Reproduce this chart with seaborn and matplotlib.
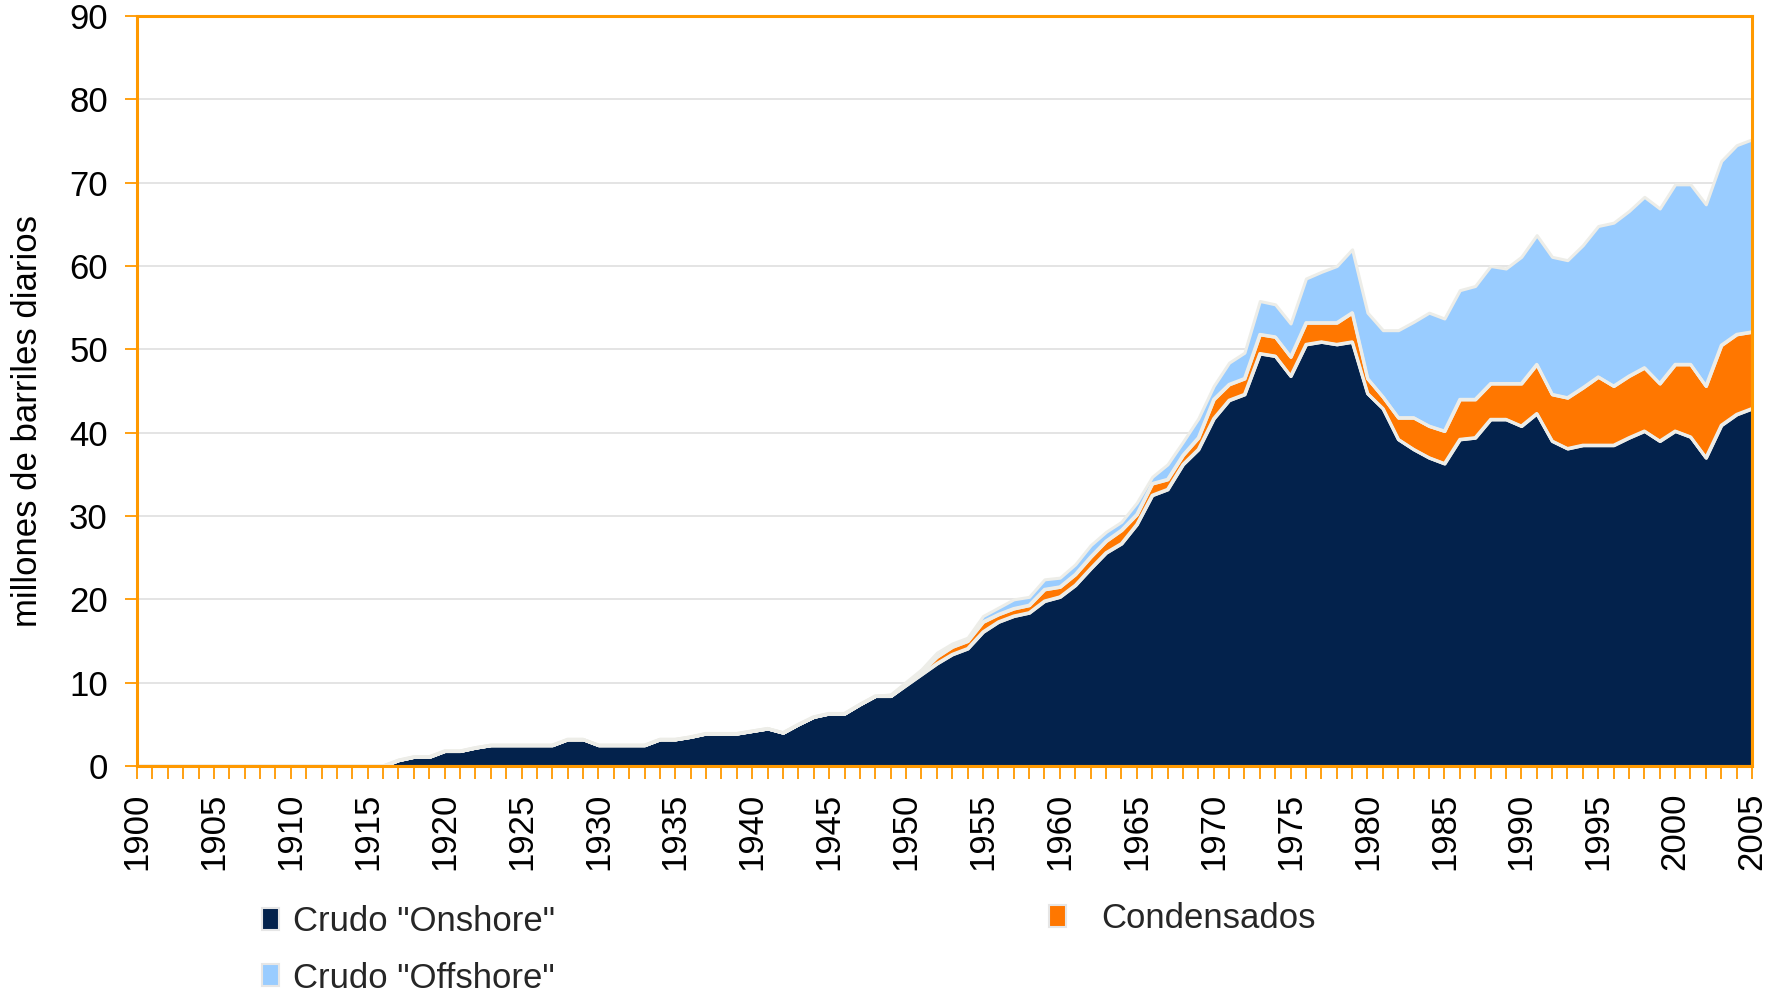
import numpy as np
import pandas as pd
import matplotlib
matplotlib.use("Agg")
import matplotlib.pyplot as plt
from matplotlib.patches import Patch
import seaborn as sns

years = list(range(1900, 2006))

onshore = [0.0] * 16 + [
    0.0, 0.7, 1.1, 1.1, 1.8, 1.8, 2.2, 2.5, 2.5, 2.5,      # 1916-1925
    2.5, 2.5, 3.2, 3.2, 2.5, 2.5, 2.5, 2.5, 3.2, 3.2,      # 1926-1935
    3.5, 3.9, 3.9, 3.9, 4.2, 4.5, 4.0, 5.0, 5.9, 6.3,      # 1936-1945
    6.3, 7.4, 8.4, 8.4, 9.7, 11.0, 12.3, 13.4, 14.1, 16.1,  # 1946-1955
    17.3, 18.0, 18.4, 19.8, 20.3, 21.7, 23.7, 25.6, 26.7, 29.0,  # 1956-1965
    32.5, 33.2, 36.2, 38.0, 41.7, 43.9, 44.6, 49.5, 49.2, 46.8,  # 1966-1975
    50.6, 50.9, 50.6, 50.9, 44.7, 42.9, 39.2, 38.0, 37.0, 36.3,  # 1976-1985
    39.2, 39.4, 41.6, 41.6, 40.8, 42.3, 39.0, 38.1, 38.5, 38.5,  # 1986-1995
    38.5, 39.4, 40.2, 39.0, 40.2, 39.5, 37.0, 40.9, 42.2, 42.9,  # 1996-2005
]

condensados = [0.0] * 50 + [
    0.1, 0.3, 0.8, 0.9, 0.9, 1.2, 0.9, 0.9, 0.9, 1.4,      # 1950-1959
    1.2, 1.3, 1.4, 1.4, 1.6, 1.2, 1.4, 1.2, 1.1, 1.4,      # 1960-1969
    2.3, 1.9, 1.9, 2.3, 2.3, 2.3, 2.6, 2.3, 2.6, 3.5,      # 1970-1979
    1.8, 1.4, 2.6, 3.8, 3.8, 3.9, 4.8, 4.6, 4.3, 4.3,      # 1980-1989
    5.1, 5.9, 5.6, 6.1, 6.9, 8.2, 7.1, 7.4, 7.6, 6.9,      # 1990-1999
    8.0, 8.7, 8.6, 9.6, 9.6, 9.2,                          # 2000-2005
]

offshore = [0.0] * 49 + [
    0.2,                                                   # 1949
    0.3, 0.3, 0.5, 0.4, 0.4, 0.7, 0.8, 1.1, 1.0, 1.2,      # 1950-1959
    1.1, 1.2, 1.4, 1.1, 1.0, 1.4, 0.8, 1.8, 1.6, 2.3,      # 1960-1969
    1.6, 2.6, 3.1, 4.0, 3.9, 4.0, 5.3, 6.1, 6.8, 7.6,      # 1970-1979
    7.9, 8.0, 10.5, 11.5, 13.6, 13.5, 13.1, 13.6, 14.1, 13.8,  # 1980-1989
    15.2, 15.5, 16.5, 16.5, 17.1, 18.1, 19.6, 19.8, 20.5, 21.0,  # 1990-1999
    21.6, 21.6, 21.8, 22.1, 22.7, 23.1,                    # 2000-2005
]

series_names = ['Crudo "Onshore"', 'Condensados', 'Crudo "Offshore"']
series_colors = ['#03224C', '#FF7700', '#99CCFF']
y_label = "millones de barriles diarios"

df = pd.DataFrame({"year": years, series_names[0]: onshore,
                   series_names[1]: condensados, series_names[2]: offshore})

sns.set_theme(style="white")
plt.rcParams['font.family'] = ['Liberation Sans', 'DejaVu Sans']

W, H = 1787, 997
fig = plt.figure(figsize=(W / 100, H / 100), dpi=100)
ax = fig.add_axes([137 / W, 1 - 766 / H, (1752 - 137) / W, (766 - 16) / H])

ax.stackplot(df["year"], df[series_names[0]], df[series_names[1]], df[series_names[2]],
             colors=series_colors, edgecolor='#EDEDE8', linewidth=2.2, zorder=2)

# boundary lines between layers via seaborn
cum1 = df[series_names[0]]
cum2 = cum1 + df[series_names[1]]
sns.lineplot(x=df["year"], y=cum1, ax=ax, color='#EDEDE8', linewidth=2.2, zorder=3)
sns.lineplot(x=df["year"], y=cum2, ax=ax, color='#EDEDE8', linewidth=2.2, zorder=3)

ax.set_xlim(1900, 2005)
ax.set_ylim(0, 90)
ax.set_yticks(range(0, 91, 10))
ax.set_xticks(range(1900, 2006, 5))
ax.set_xticks(range(1900, 2006, 1), minor=True)
ax.set_xticklabels([str(y) for y in range(1900, 2006, 5)], rotation=90)
ax.set_xlabel("")
ax.set_ylabel("")

ax.yaxis.grid(True, color='#E4E4E4', linewidth=1.4, zorder=0)
ax.xaxis.grid(False)
ax.set_axisbelow(True)

for sp in ax.spines.values():
    sp.set_color('#FF9900')
    sp.set_linewidth(2.2)
    sp.set_zorder(5)

ax.tick_params(axis='both', which='both', direction='out', color='#FF9900',
               width=1.3, length=9, labelsize=25, labelcolor='black')
ax.tick_params(axis='y', pad=12)
ax.tick_params(axis='x', which='major', pad=10)
ax.tick_params(axis='x', which='minor', length=9)
ax.tick_params(bottom=True, left=True, which='both')
ax.tick_params(axis='y', which='minor', left=False)

fig.text(28 / W, 1 - 421 / H, y_label, rotation=90, ha='center', va='center',
         fontsize=25, color='black')

h_on = Patch(facecolor=series_colors[0], edgecolor='#E6E6E6', linewidth=1.5)
h_off = Patch(facecolor=series_colors[2], edgecolor='#E6E6E6', linewidth=1.5)
h_cond = Patch(facecolor=series_colors[1], edgecolor='#E6E6E6', linewidth=1.5)

leg1 = fig.legend([h_on, h_off], [series_names[0], series_names[2]],
                  loc='upper left', bbox_to_anchor=(262 / W, 1 - 905 / H),
                  frameon=False, fontsize=25, handlelength=0.5, handleheight=0.6,
                  handletextpad=0.4, labelspacing=0.68, borderpad=0, borderaxespad=0)
leg2 = fig.legend([h_cond], [series_names[1]],
                  loc='upper left', bbox_to_anchor=(1049 / W, 1 - 902 / H),
                  frameon=False, fontsize=25, handlelength=0.5, handleheight=0.6,
                  handletextpad=1.0, borderpad=0, borderaxespad=0)

fig.savefig("out.png", dpi=100, facecolor='white')
